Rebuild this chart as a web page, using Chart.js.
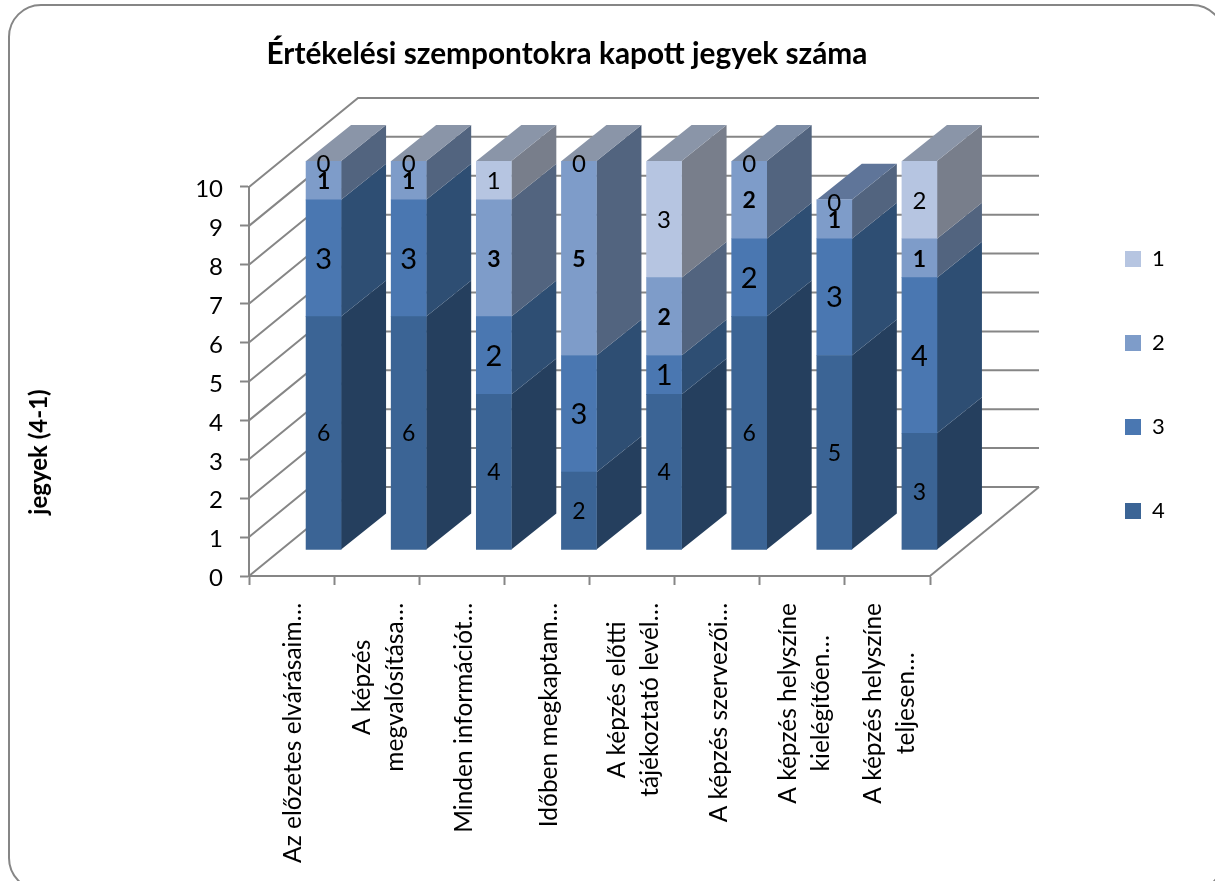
<!DOCTYPE html>
<html>
<head>
<meta charset="utf-8">
<title>Értékelési szempontokra kapott jegyek száma</title>
<script src="https://cdn.jsdelivr.net/npm/chart.js@4"></script>
<style>
html, body { margin: 0; padding: 0; background: #fff; overflow: hidden; }
canvas { display: block; }
</style>
</head>
<body>
<canvas id="chartJegyek" width="1215" height="881"></canvas>
<script>
var categories = [
    ["Az előzetes elvárásaim…"],
    ["A képzés", "megvalósítása…"],
    ["Minden információt…"],
    ["Időben megkaptam…"],
    ["A képzés előtti", "tájékoztató levél…"],
    ["A képzés szervezői…"],
    ["A képzés helyszíne", "kielégítően…"],
    ["A képzés helyszíne", "teljesen…"]
];
var jegy4 = [6, 6, 4, 2, 4, 6, 5, 3];
var jegy3 = [3, 3, 2, 3, 1, 2, 3, 4];
var jegy2 = [1, 1, 3, 5, 2, 2, 1, 1];
var jegy1 = [0, 0, 1, 0, 3, 0, 0, 2];
var yTicks = [0, 1, 2, 3, 4, 5, 6, 7, 8, 9, 10];

var GRAY = '#868686';
// eltolas a 3D hatashoz
var wallDx = 109, wallDy = -89;     // fal a front kerethez kepest
var barDx = 32, barDy = -26;        // oszlop eleje a kerethez kepest
var depthDx = 45, depthDy = -36;    // oszlop melysege
var topColor = ['#8A95A8', '#8A95A8', '#8A95A8', '#8A95A8', '#8A95A8', '#7C8CA5', '#5F7599', '#8A95A8'];

// hatter: keret, falak es padlo vonalai, oszlopok oldala es teteje
var depthPlugin = {
    id: 'depth',
    afterLayout: function (chart) {
        chart.titleBlock.left = 0;
        chart.titleBlock.right = 1134;
        chart.legend.left = 1125 - 62;
        chart.legend.right = 1200;
        chart.legend.top = 186;
        chart.legend.bottom = 620;
    },
    beforeDraw: function (chart) {
        var ctx = chart.ctx;
        ctx.save();
        ctx.strokeStyle = GRAY;
        ctx.lineWidth = 2;
        ctx.beginPath();
        ctx.roundRect(9, 5, 1215, 885, 32);
        ctx.stroke();

        ctx.translate(39, 452);
        ctx.rotate(-Math.PI / 2);
        ctx.font = 'bold 24px Lato';
        ctx.fillStyle = '#000';
        ctx.textAlign = 'center';
        ctx.textBaseline = 'middle';
        ctx.fillText('jegyek (4-1)', 0, 0);
        ctx.restore();
    },
    beforeDatasetsDraw: function (chart) {
        var ctx = chart.ctx, y = chart.scales.y, area = chart.chartArea;
        ctx.save();
        ctx.strokeStyle = GRAY;
        ctx.lineWidth = 2;
        yTicks.forEach(function (t) {
            var py = y.getPixelForValue(t);
            ctx.beginPath();
            ctx.moveTo(area.left, py);
            ctx.lineTo(area.left + wallDx, py + wallDy);
            ctx.lineTo(area.right + wallDx, py + wallDy);
            ctx.stroke();
        });
        ctx.beginPath();
        ctx.moveTo(area.right, area.bottom);
        ctx.lineTo(area.right + wallDx, area.bottom + wallDy);
        ctx.stroke();
        ctx.restore();

        ctx.save();
        ctx.translate(barDx, barDy);
        chart.data.datasets.forEach(function (ds, i) {
            chart.getDatasetMeta(i).data.forEach(function (bar, j) {
                var p = bar.getProps(['x', 'y', 'base', 'width'], true);
                var right = p.x + p.width / 2, left = p.x - p.width / 2;
                ctx.fillStyle = ds.sideColor;
                ctx.beginPath();
                ctx.moveTo(right, p.base);
                ctx.lineTo(right, p.y);
                ctx.lineTo(right + depthDx, p.y + depthDy);
                ctx.lineTo(right + depthDx, p.base + depthDy);
                ctx.closePath();
                ctx.fill();
                if (i === chart.data.datasets.length - 1) {
                    ctx.fillStyle = topColor[j];
                    ctx.beginPath();
                    ctx.moveTo(left, p.y);
                    ctx.lineTo(right, p.y);
                    ctx.lineTo(right + depthDx, p.y + depthDy);
                    ctx.lineTo(left + depthDx, p.y + depthDy);
                    ctx.closePath();
                    ctx.fill();
                }
            });
        });
        // a restore az afterDatasetsDraw-ban van, a sav is eltolva rajzolodik
    },
    afterDatasetsDraw: function (chart) {
        var ctx = chart.ctx;
        ctx.textAlign = 'center';
        ctx.textBaseline = 'middle';
        ctx.fillStyle = '#000';
        chart.data.datasets.forEach(function (ds, i) {
            ctx.font = ds.labelFont;
            chart.getDatasetMeta(i).data.forEach(function (bar, j) {
                var p = bar.getProps(['x', 'y', 'base'], true);
                var v = ds.data[j];
                ctx.fillText(String(v), p.x, (p.y + p.base) / 2 + (v === 0 ? 3 : 1));
            });
        });
        ctx.restore();
    },
    afterDraw: function (chart) {
        // tengelyfeliratok, a sorok egymashoz kozepre igazitva
        var ctx = chart.ctx, x = chart.scales.x;
        ctx.save();
        ctx.font = '24.5px Lato';
        ctx.fillStyle = '#000';
        ctx.textAlign = 'center';
        ctx.textBaseline = 'middle';
        categories.forEach(function (lines, i) {
            var widest = 0;
            lines.forEach(function (l) { widest = Math.max(widest, ctx.measureText(l).width); });
            ctx.save();
            ctx.translate(x.getPixelForTick(i) + 2, 603);
            ctx.rotate(-Math.PI / 2);
            lines.forEach(function (l, k) {
                ctx.fillText(l, -widest / 2, (k - (lines.length - 1) / 2) * 33);
            });
            ctx.restore();
        });
        ctx.restore();
    }
};

Chart.defaults.font.family = 'Lato';
Chart.defaults.color = '#000';

chartJegyek = new Chart(document.getElementById('chartJegyek'), {
    type: 'bar',
    data: {
        labels: categories,
        datasets: [
            { label: '4', data: jegy4, backgroundColor: '#3B6495', sideColor: '#253F5E', labelFont: '23px Lato', barThickness: 35 },
            { label: '3', data: jegy3, backgroundColor: '#4A77B1', sideColor: '#2E4E73', labelFont: '29px Lato', barThickness: 35 },
            { label: '2', data: jegy2, backgroundColor: '#7E9CC9', sideColor: '#52647F', labelFont: 'bold 23px Lato', barThickness: 35 },
            { label: '1', data: jegy1, backgroundColor: '#B6C5E1', sideColor: '#787E8B', labelFont: '24px Lato', barThickness: 35 }
        ]
    },
    options: {
        responsive: false,
        animation: false,
        layout: { padding: { right: 285 } },
        plugins: {
            title: {
                display: true,
                text: 'Értékelési szempontokra kapott jegyek száma',
                color: '#000',
                font: { size: 29.8, weight: 'bold', lineHeight: 1.2 },
                padding: { top: 37, bottom: 114.2 }
            },
            legend: {
                position: 'chartArea',
                align: 'start',
                reverse: true,
                labels: { boxWidth: 16, boxHeight: 16, padding: 62, font: { size: 22 }, color: '#000' }
            },
            tooltip: { enabled: false }
        },
        scales: {
            x: {
                stacked: true,
                border: { color: GRAY, width: 2 },
                grid: { drawOnChartArea: false, color: GRAY, tickLength: 9, tickWidth: 2 },
                ticks: { display: false },
                afterFit: function (s) { s.height = 305; }
            },
            y: {
                stacked: true,
                min: 0,
                max: 10,
                border: { color: GRAY, width: 2 },
                grid: { drawOnChartArea: false, color: GRAY, tickLength: 9, tickWidth: 2 },
                ticks: { stepSize: 1, padding: 17, labelOffset: 2.5, font: { size: 24 }, color: '#000' },
                afterFit: function (s) { s.width = 249; }
            }
        }
    },
    plugins: [depthPlugin]
});
</script>
</body>
</html>
